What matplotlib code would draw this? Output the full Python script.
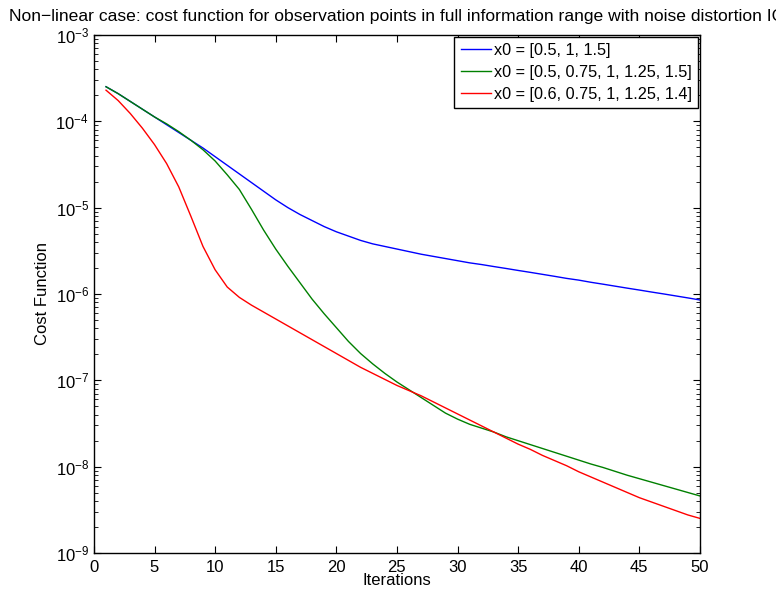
import numpy as np
import matplotlib
matplotlib.use("Agg")
import matplotlib.pyplot as plt
from matplotlib.ticker import LogLocator, NullFormatter

plt.rcParams['font.family'] = ['Liberation Sans', 'DejaVu Sans']

# Iterations and log10 of cost function
iterations = list(range(1, 51))

blue_log = [-3.60, -3.68, -3.77, -3.86, -3.95, -4.04, -4.13, -4.22, -4.31, -4.41,
            -4.51, -4.61, -4.71, -4.81, -4.91, -5.00, -5.08, -5.15, -5.22, -5.28,
            -5.33, -5.38, -5.42, -5.45, -5.48, -5.51, -5.54, -5.565, -5.59, -5.615,
            -5.64, -5.66, -5.683, -5.705, -5.728, -5.75, -5.773, -5.796, -5.82, -5.84,
            -5.865, -5.887, -5.91, -5.933, -5.955, -5.978, -6.00, -6.023, -6.046, -6.07]

green_log = [-3.60, -3.68, -3.77, -3.86, -3.95, -4.03, -4.12, -4.22, -4.33, -4.46,
             -4.62, -4.79, -5.02, -5.26, -5.48, -5.68, -5.87, -6.06, -6.23, -6.39,
             -6.55, -6.69, -6.81, -6.92, -7.02, -7.11, -7.20, -7.29, -7.38, -7.45,
             -7.51, -7.555, -7.60, -7.655, -7.70, -7.745, -7.79, -7.835, -7.88, -7.925,
             -7.97, -8.01, -8.055, -8.10, -8.14, -8.18, -8.22, -8.26, -8.30, -8.34]

red_log = [-3.64, -3.76, -3.91, -4.08, -4.27, -4.49, -4.76, -5.10, -5.45, -5.72,
           -5.92, -6.04, -6.13, -6.21, -6.29, -6.37, -6.45, -6.53, -6.61, -6.69,
           -6.77, -6.85, -6.92, -6.99, -7.06, -7.12, -7.18, -7.25, -7.32, -7.39,
           -7.46, -7.53, -7.60, -7.67, -7.74, -7.80, -7.87, -7.93, -7.99, -8.06,
           -8.12, -8.18, -8.24, -8.30, -8.36, -8.41, -8.46, -8.51, -8.56, -8.60]

labels = ["x0 = [0.5, 1, 1.5]",
          "x0 = [0.5, 0.75, 1, 1.25, 1.5]",
          "x0 = [0.6, 0.75, 1, 1.25, 1.4]"]
colors = [(0, 0, 1), (0, 0.5, 0), (1, 0, 0)]

fig = plt.figure(figsize=(7.76, 5.92), dpi=100)
ax = fig.add_axes([0.121, 0.066, 0.781, 0.875])

for vals, lab, c in zip([blue_log, green_log, red_log], labels, colors):
    ax.semilogy(iterations, 10.0 ** np.array(vals), color=c, lw=1.0, label=lab)

ax.set_xlim(0, 50)
ax.set_ylim(1e-9, 1e-3)
ax.set_xticks(range(0, 51, 5))
ax.yaxis.set_major_locator(LogLocator(base=10, numticks=10))
ax.yaxis.set_minor_locator(LogLocator(base=10, subs=np.arange(2, 10), numticks=20))
ax.yaxis.set_minor_formatter(NullFormatter())
ax.tick_params(which='both', direction='in', top=True, right=True, labelsize=12)
ax.tick_params(which='major', length=5)
ax.tick_params(which='minor', length=3)
ax.tick_params(axis='x', pad=5)
for s in ax.spines.values():
    s.set_linewidth(1.0)

ax.set_xlabel("Iterations", fontsize=12, labelpad=-1)
ax.set_ylabel("Cost Function", fontsize=12, labelpad=4)
ax.set_title("Non\u2212linear case: cost function for observation points in full "
             "information range with noise distortion IC", fontsize=12.6, pad=10)

leg = ax.legend(loc='upper right', fontsize=11.7, borderaxespad=0.1, fancybox=False,
                edgecolor='black', framealpha=1, handlelength=1.9, handletextpad=0.15,
                labelspacing=0.42, borderpad=0.4)
leg.get_frame().set_linewidth(1.0)

fig.savefig("out.png", dpi=100)
